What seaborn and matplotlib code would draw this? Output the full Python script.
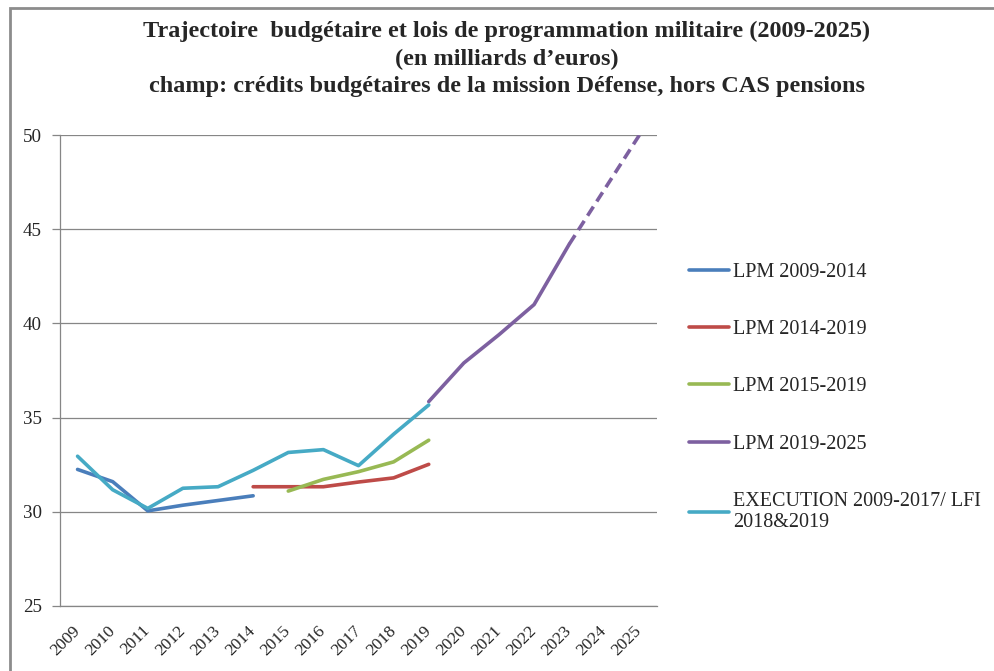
import matplotlib
matplotlib.use("Agg")
import matplotlib.pyplot as plt
import seaborn as sns
import numpy as np
import pandas as pd
from matplotlib.patches import Rectangle
from matplotlib.lines import Line2D

years = [str(y) for y in range(2009, 2026)]

lpm_2009_2014_years = [2009, 2010, 2011, 2012, 2013, 2014]
lpm_2009_2014 = [32.25, 31.6, 30.05, 30.35, 30.6, 30.85]

lpm_2014_2019_years = [2014, 2015, 2016, 2017, 2018, 2019]
lpm_2014_2019 = [31.33, 31.33, 31.33, 31.58, 31.8, 32.52]

lpm_2015_2019_years = [2015, 2016, 2017, 2018, 2019]
lpm_2015_2019 = [31.1, 31.72, 32.13, 32.65, 33.8]

lpm_2019_2025_years = [2019, 2020, 2021, 2022, 2023, 2024, 2025]
lpm_2019_2025 = [35.85, 37.9, 39.4, 41.0, 44.2, 47.1, 50.0]
lpm_2019_2025_projected_from = 2023

execution_years = [2009, 2010, 2011, 2012, 2013, 2014, 2015, 2016, 2017, 2018, 2019]
execution = [32.95, 31.17, 30.18, 31.25, 31.33, 32.2, 33.15, 33.3, 32.45, 34.12, 35.67]

labels = ["LPM 2009-2014", "LPM 2014-2019", "LPM 2015-2019", "LPM 2019-2025",
          "EXECUTION 2009-2017/ LFI\n2018&2019"]
colors = ["#4A7EBB", "#BE4B48", "#98B954", "#7D60A0", "#46AAC5"]

title = ("Trajectoire  budgétaire et lois de programmation militaire (2009-2025)\n"
         "(en milliards d\u2019euros)\n"
         "champ: crédits budgétaires de la mission Défense, hors CAS pensions")

sns.set_theme(style="white")
plt.rcParams["font.family"] = ["Liberation Serif", "DejaVu Serif"]

fig = plt.figure(figsize=(9.95, 6.71), dpi=100)
fig.patch.set_facecolor("white")
# outer chart border (partially visible)
fig.add_artist(Rectangle((10 / 995, -0.1), 1.2, (1 - 8 / 671) + 0.1, transform=fig.transFigure,
                         fill=False, edgecolor="#8C8C8C", linewidth=2.0))

ax = fig.add_axes([60 / 995, 1 - 606 / 671, (657 - 60) / 995, (606 - 135) / 671])

def pos(yrs):
    return [y - 2009 for y in yrs]

lw = 2.6
df1 = pd.DataFrame({"x": pos(lpm_2009_2014_years), "v": lpm_2009_2014})
sns.lineplot(data=df1, x="x", y="v", ax=ax, color=colors[0], linewidth=lw)
df2 = pd.DataFrame({"x": pos(lpm_2014_2019_years), "v": lpm_2014_2019})
sns.lineplot(data=df2, x="x", y="v", ax=ax, color=colors[1], linewidth=lw)
df3 = pd.DataFrame({"x": pos(lpm_2015_2019_years), "v": lpm_2015_2019})
sns.lineplot(data=df3, x="x", y="v", ax=ax, color=colors[2], linewidth=lw)
df4 = pd.DataFrame({"x": pos(lpm_2019_2025_years), "v": lpm_2019_2025, "yr": lpm_2019_2025_years})
sns.lineplot(data=df4[df4.yr <= lpm_2019_2025_projected_from], x="x", y="v", ax=ax,
             color=colors[3], linewidth=lw)
proj = df4[df4.yr >= lpm_2019_2025_projected_from]
sns.lineplot(data=proj, x="x", y="v", ax=ax, color=colors[3], linewidth=lw)
ax.lines[-1].set_dashes([3.0, 1.7])
df5 = pd.DataFrame({"x": pos(execution_years), "v": execution})
sns.lineplot(data=df5, x="x", y="v", ax=ax, color=colors[4], linewidth=lw)

ax.set_xlim(-0.5, len(years) - 0.5)
ax.set_ylim(25, 50)
ax.set_yticks([25, 30, 35, 40, 45, 50])
ax.set_xticks(range(len(years)))
ax.set_xticklabels(years, rotation=45, ha="right", va="center", rotation_mode="anchor",
                   fontsize=12.5)
ax.set_xticks(np.arange(-0.5, len(years)), minor=True)
ax.tick_params(axis="x", which="major", length=0, pad=16)
ax.tick_params(axis="x", which="minor", length=6, width=0.9, color="#868686", direction="out")
ax.tick_params(axis="y", length=6, width=0.9, color="#868686", direction="out",
               labelsize=13.7, pad=7, left=True)
ax.set_xlabel("")
ax.set_ylabel("")
ax.grid(axis="y", color="#868686", linewidth=0.9)
ax.grid(axis="x", visible=False)
for s in ["top", "right"]:
    ax.spines[s].set_visible(False)
for s in ["left", "bottom"]:
    ax.spines[s].set_color("#868686")
    ax.spines[s].set_linewidth(0.9)

handles = [Line2D([0], [0], color=c, linewidth=lw) for c in colors]
fig.legend(handles, labels, loc="upper left", bbox_to_anchor=(681 / 995, 1 - 255 / 671),
           frameon=False, fontsize=14.5, handlelength=2.0, handletextpad=0.2,
           labelspacing=1.89, borderaxespad=0)

fig.text(507 / 995, 1 - 21 / 671, title, ha="center", va="top", fontsize=17.5,
         fontweight="bold", linespacing=1.4)

fig.savefig("out.png", dpi=100, facecolor="white")
